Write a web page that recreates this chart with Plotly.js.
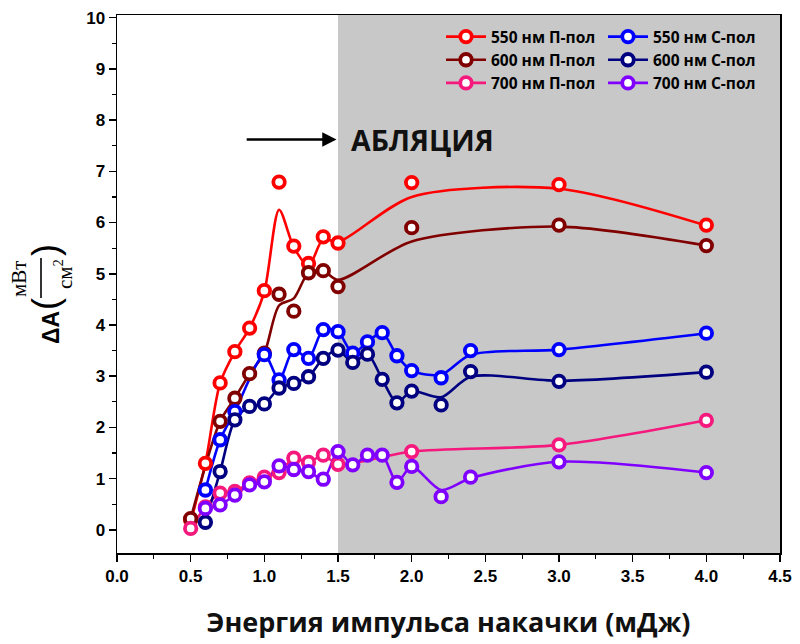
<!DOCTYPE html>
<html>
<head>
<meta charset="utf-8">
<script src="https://cdn.plot.ly/plotly-3.0.1.min.js"></script>
<style>html,body{margin:0;padding:0;background:#fff;}#chart{width:800px;height:644px;}</style>
</head>
<body>
<div id="chart"></div>
<script>
// ---- data ----
const seriesNames = ["550 нм П-пол", "550 нм С-пол", "600 нм П-пол", "600 нм С-пол", "700 нм П-пол", "700 нм С-пол"];

const x550P = [0.5, 0.6, 0.7, 0.8, 0.9, 1.0, 1.1, 1.2, 1.3, 1.4, 1.5, 2.0, 3.0, 4.0];
const y550P = [0.2, 1.30, 2.87, 3.48, 3.94, 4.67, 6.79, 5.54, 5.2, 5.72, 5.60, 6.78, 6.74, 5.95];
const fit550P = [0.15, 1.30, 2.87, 3.48, 3.94, 4.65, 6.25, 5.52, 5.15, 5.68, 5.62, 6.50, 6.66, 5.94];

const x600P = [0.5, 0.7, 0.8, 0.9, 1.0, 1.1, 1.2, 1.3, 1.4, 1.5, 2.0, 3.0, 4.0];
const y600P = [0.22, 2.12, 2.57, 3.05, 3.45, 4.60, 4.27, 5.02, 5.06, 4.75, 5.90, 5.95, 5.55];
const fit600P = [0.22, 2.12, 2.57, 3.05, 3.45, 4.38, 4.52, 5.02, 5.06, 4.88, 5.63, 5.92, 5.55];

const x550S = [0.6, 0.7, 0.8, 1.0, 1.1, 1.2, 1.3, 1.4, 1.5, 1.6, 1.7, 1.8, 1.9, 2.0, 2.2, 2.4, 3.0, 4.0];
const y550S = [0.78, 1.76, 2.31, 3.42, 2.93, 3.52, 3.35, 3.91, 3.87, 3.45, 3.67, 3.85, 3.40, 3.11, 2.97, 3.50, 3.52, 3.84];
const fit550S = [0.78, 1.76, 2.31, 3.42, 2.93, 3.52, 3.35, 3.91, 3.87, 3.45, 3.67, 3.85, 3.40, 3.11, 3.03, 3.42, 3.52, 3.84];

const x600S = [0.6, 0.7, 0.8, 0.9, 1.0, 1.1, 1.2, 1.3, 1.4, 1.5, 1.6, 1.7, 1.8, 1.9, 2.0, 2.2, 2.4, 3.0, 4.0];
const y600S = [0.15, 1.14, 2.15, 2.41, 2.46, 2.77, 2.86, 2.99, 3.35, 3.51, 3.27, 3.43, 2.94, 2.48, 2.71, 2.44, 3.09, 2.90, 3.08];
const fit600S = [0.15, 1.14, 2.15, 2.41, 2.46, 2.77, 2.86, 2.99, 3.35, 3.51, 3.27, 3.43, 2.94, 2.48, 2.71, 2.59, 2.99, 2.91, 3.08];

const x700P = [0.5, 0.6, 0.7, 0.8, 0.9, 1.0, 1.1, 1.2, 1.3, 1.4, 1.5, 2.0, 3.0, 4.0];
const y700P = [0.03, 0.45, 0.72, 0.75, 0.92, 1.03, 1.12, 1.40, 1.32, 1.46, 1.28, 1.53, 1.66, 2.14];
const fit700P = y700P;

const x700S = [0.6, 0.7, 0.8, 0.9, 1.0, 1.1, 1.2, 1.3, 1.4, 1.5, 1.6, 1.7, 1.8, 1.9, 2.0, 2.2, 2.4, 3.0, 4.0];
const y700S = [0.42, 0.49, 0.68, 0.88, 0.94, 1.25, 1.18, 1.14, 0.99, 1.53, 1.27, 1.46, 1.46, 0.93, 1.24, 0.65, 1.03, 1.33, 1.12];
const fit700S = [0.42, 0.49, 0.68, 0.88, 0.94, 1.25, 1.18, 1.14, 0.99, 1.53, 1.27, 1.46, 1.46, 0.93, 1.24, 0.78, 1.01, 1.33, 1.12];

const xTickVals = [0, 0.5, 1, 1.5, 2, 2.5, 3, 3.5, 4, 4.5];
const xTickText = ["0.0", "0.5", "1.0", "1.5", "2.0", "2.5", "3.0", "3.5", "4.0", "4.5"];
const yTickVals = [0, 1, 2, 3, 4, 5, 6, 7, 8, 9, 10];
const ablationStart = 1.5;
const ablationLabel = "АБЛЯЦИЯ";
const xTitle = "Энергия импульса накачки (мДж)";

// ---- styling ----
const colors = {
  "550P": "#ff0000", "600P": "#800000", "700P": "#f5197d",
  "550S": "#0000ff", "600S": "#000080", "700S": "#8000ff"
};
const series = [
  {key: "550P", name: seriesNames[0], x: x550P, y: y550P, fit: fit550P},
  {key: "600P", name: seriesNames[2], x: x600P, y: y600P, fit: fit600P},
  {key: "700P", name: seriesNames[4], x: x700P, y: y700P, fit: fit700P},
  {key: "550S", name: seriesNames[1], x: x550S, y: y550S, fit: fit550S},
  {key: "600S", name: seriesNames[3], x: x600S, y: y600S, fit: fit600S},
  {key: "700S", name: seriesNames[5], x: x700S, y: y700S, fit: fit700S}
];

const LW = 2.6;
const mk = c => ({symbol: "circle", size: 11.5, color: "#ffffff", line: {color: c, width: 3.8}});

const traces = [];
series.forEach(s => {
  traces.push({x: s.x, y: s.fit, mode: "lines", type: "scatter", showlegend: false, hoverinfo: "skip",
    line: {color: colors[s.key], width: LW, shape: "spline", smoothing: 0.8}});
});
series.forEach(s => {
  traces.push({x: s.x, y: s.y, mode: "markers", type: "scatter", showlegend: false, name: s.name,
    marker: mk(colors[s.key])});
});
// legend entries: П-пол in first column, С-пол in second column
series.forEach(s => {
  traces.push({x: [null], y: [null], mode: "lines+markers", type: "scatter", name: s.name, showlegend: true,
    legend: s.key.endsWith("P") ? "legend" : "legend2",
    line: {color: colors[s.key], width: LW}, marker: mk(colors[s.key])});
});

// plot-area pixel geometry
const L = 117, R = 20, T = 15, B = 91, W = 800, H = 644;
const pw = W - L - R, ph = H - T - B;
const px = p => (p - L) / pw;
const py = p => (H - B - p) / ph;

const serif = "Liberation Serif, DejaVu Serif, serif";
const annotations = [
  {xref: "x", yref: "y", x: 1.49, y: 7.62, axref: "x", ayref: "y", ax: 0.87, ay: 7.62, text: "",
   showarrow: true, arrowhead: 2, arrowsize: 1.1, arrowwidth: 2.6, arrowcolor: "#000"},
  {xref: "x", yref: "y", x: 1.575, y: 7.62, text: ablationLabel, showarrow: false, xanchor: "left", yanchor: "middle",
   font: {family: "Open Sans, Arial, sans-serif", size: 28.5, color: "#111", weight: 700}},
  {xref: "paper", yref: "paper", x: px(51), y: py(328), text: "ΔA", textangle: -90, showarrow: false,
   xanchor: "center", yanchor: "middle", font: {family: "Arial, Liberation Sans, sans-serif", size: 23, color: "#000", weight: 700}},
  {xref: "paper", yref: "paper", x: px(45), y: py(304), text: "(", textangle: -90, showarrow: false,
   xanchor: "center", yanchor: "middle", font: {family: "Arial, Liberation Sans, sans-serif", size: 36, color: "#000"}},
  {xref: "paper", yref: "paper", x: px(45), y: py(250), text: ")", textangle: -90, showarrow: false,
   xanchor: "center", yanchor: "middle", font: {family: "Arial, Liberation Sans, sans-serif", size: 36, color: "#000"}},
  {xref: "paper", yref: "paper", x: px(19), y: py(279), text: "мВт", textangle: -90, showarrow: false,
   xanchor: "center", yanchor: "middle", font: {family: serif, size: 21, color: "#000"}},
  {xref: "paper", yref: "paper", x: px(63), y: py(274), text: "см<sup>2</sup>", textangle: -90, showarrow: false,
   xanchor: "center", yanchor: "middle", font: {family: serif, size: 21, color: "#000"}}
];

const shapes = [
  {type: "rect", xref: "x", yref: "paper", x0: ablationStart, x1: 4.5, y0: 0, y1: 1,
   fillcolor: "#c8c8c8", line: {width: 0}, layer: "below"},
  {type: "line", xref: "paper", yref: "paper", x0: px(41), x1: px(41), y0: py(258), y1: py(298),
   line: {color: "#000", width: 1.6}}
];

const axisFont = {family: "Arial, Liberation Sans, sans-serif", size: 17, color: "#000", weight: 700};
const legendFont = {family: "Open Sans, Arial, sans-serif", size: 15.5, color: "#000", weight: 700};

const layout = {
  width: W, height: H,
  margin: {l: L, r: R, t: T, b: B, pad: 0},
  paper_bgcolor: "#ffffff", plot_bgcolor: "#ffffff",
  showlegend: true,
  legend: {orientation: "v", x: px(441), y: py(20), xanchor: "left", yanchor: "top",
    bgcolor: "rgba(0,0,0,0)", itemwidth: 40, font: legendFont, tracegroupgap: 0},
  legend2: {orientation: "v", x: px(603), y: py(20), xanchor: "left", yanchor: "top",
    bgcolor: "rgba(0,0,0,0)", itemwidth: 40, font: legendFont, tracegroupgap: 0},
  xaxis: {range: [0, 4.5], tickvals: xTickVals, ticktext: xTickText, ticks: "outside", ticklen: 7, tickwidth: 1.5,
    tickcolor: "#000", showline: true, linecolor: "#000", linewidth: 1.5, mirror: true, showgrid: false, zeroline: false,
    tickfont: axisFont,
    minor: {dtick: 0.25, tick0: 0, ticks: "outside", ticklen: 4, tickwidth: 1.2, tickcolor: "#000", showgrid: false},
    title: {text: xTitle, standoff: 28, font: {family: "Open Sans, Arial, sans-serif", size: 27, color: "#111", weight: 700}}},
  yaxis: {range: [-0.45, 10.05], tickvals: yTickVals, ticks: "outside", ticklen: 7, tickwidth: 1.5,
    tickcolor: "#000", showline: true, linecolor: "#000", linewidth: 1.5, mirror: true, showgrid: false, zeroline: false,
    tickfont: axisFont,
    minor: {dtick: 0.5, tick0: 0, ticks: "outside", ticklen: 4, tickwidth: 1.2, tickcolor: "#000", showgrid: false}},
  annotations: annotations,
  shapes: shapes
};

Plotly.newPlot("chart", traces, layout, {staticPlot: true, displayModeBar: false});
</script>
</body>
</html>
